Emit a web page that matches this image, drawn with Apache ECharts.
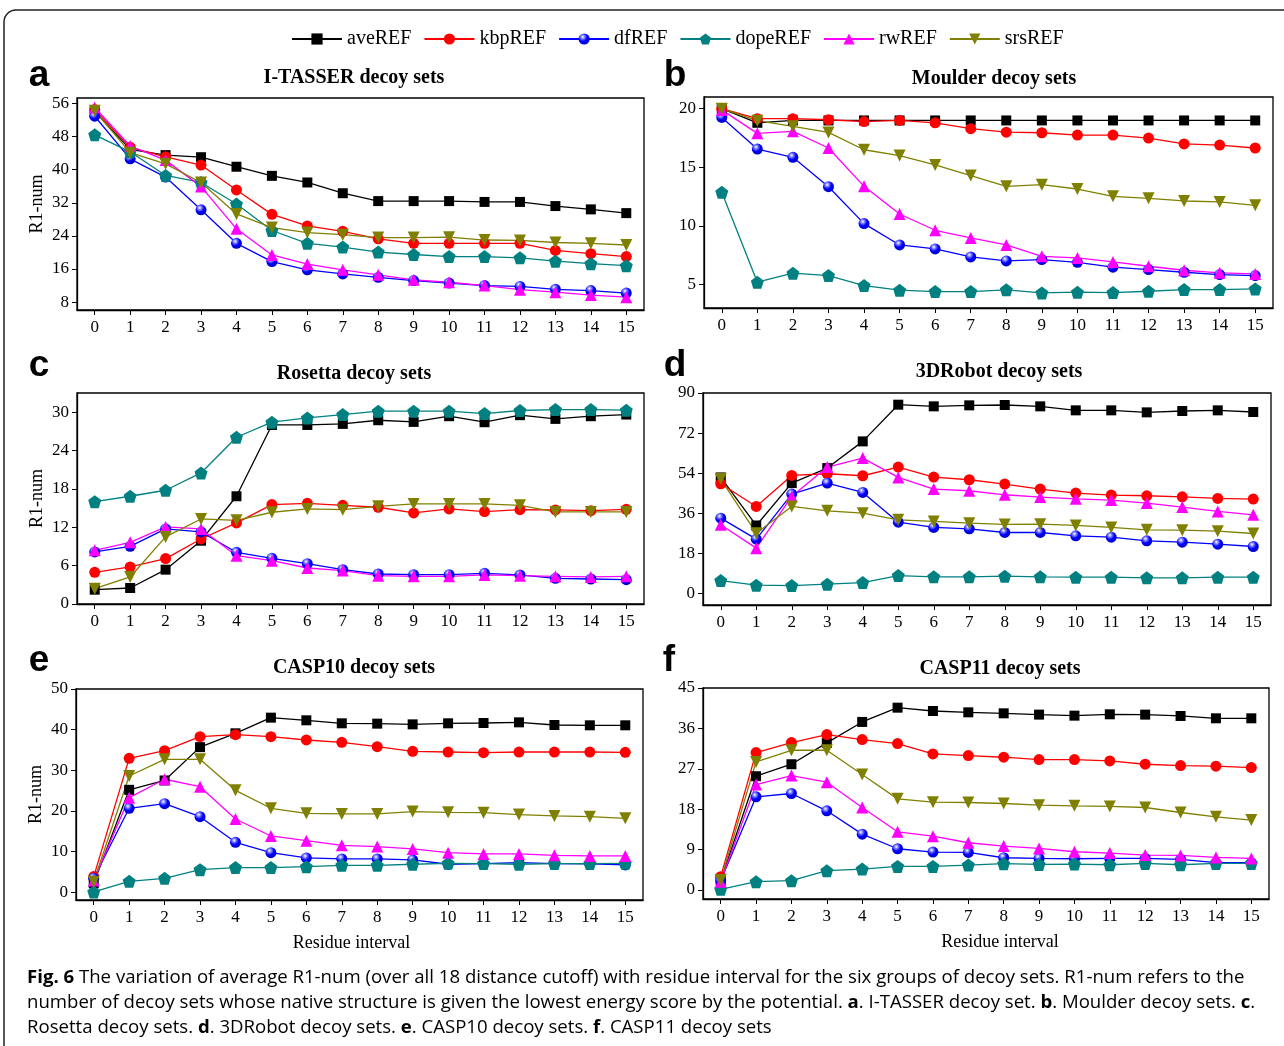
<!DOCTYPE html>
<html>
<head>
<meta charset="utf-8">
<script src="https://cdn.jsdelivr.net/npm/echarts@6/dist/echarts.min.js"></script>
<style>
  html, body { margin: 0; padding: 0; background: #fff; }
  #main { width: 1284px; height: 1046px; }
</style>
</head>
<body>
<div id="main"></div>
<script type="text/javascript">
// residue interval (x axis)
var interval = [0, 1, 2, 3, 4, 5, 6, 7, 8, 9, 10, 11, 12, 13, 14, 15];
var methods = ['aveREF', 'kbpREF', 'dfREF', 'dopeREF', 'rwREF', 'srsREF'];

// a. I-TASSER
var aAve  = [54.0, 44.9, 43.5, 43.0, 40.7, 38.5, 36.9, 34.3, 32.4, 32.4, 32.4, 32.2, 32.2, 31.2, 30.4, 29.5];
var aKbp  = [54.5, 45.4, 43.1, 41.1, 35.1, 29.2, 26.4, 25.1, 23.3, 22.2, 22.2, 22.2, 22.2, 20.5, 19.7, 19.0];
var aDf   = [52.9, 42.6, 38.2, 30.3, 22.2, 17.8, 15.8, 14.8, 14.0, 13.2, 12.6, 12.0, 11.8, 11.1, 10.8, 10.2];
var aDope = [48.4, 44.3, 38.6, 36.9, 31.7, 25.3, 22.2, 21.3, 20.1, 19.5, 19.0, 19.0, 18.7, 17.9, 17.3, 16.8];
var aRw   = [55.0, 45.7, 42.3, 35.9, 25.7, 19.4, 17.2, 15.8, 14.6, 13.4, 12.8, 12.0, 11.0, 10.4, 9.7, 9.2];
var aSrs  = [54.2, 44.1, 41.4, 36.9, 29.3, 26.0, 24.8, 24.3, 23.6, 23.6, 23.7, 23.0, 22.9, 22.4, 22.2, 21.8];
var aTicks = [8, 16, 24, 32, 40, 48, 56];

// b. Moulder
var bAve  = [20.0, 18.8, 19.0, 19.0, 19.0, 19.0, 19.0, 19.0, 19.0, 19.0, 19.0, 19.0, 19.0, 19.0, 19.0, 19.0];
var bKbp  = [20.0, 19.15, 19.15, 19.06, 18.9, 19.0, 18.8, 18.3, 18.0, 17.95, 17.75, 17.75, 17.5, 17.0, 16.9, 16.65];
var bDf   = [19.26, 16.56, 15.85, 13.35, 10.2, 8.38, 8.04, 7.36, 7.02, 7.13, 6.9, 6.48, 6.28, 6.05, 5.85, 5.77];
var bDope = [12.87, 5.2, 5.97, 5.77, 4.91, 4.52, 4.4, 4.4, 4.55, 4.29, 4.35, 4.32, 4.43, 4.57, 4.57, 4.63];
var bRw   = [19.9, 17.9, 18.07, 16.65, 13.38, 11.02, 9.63, 8.98, 8.38, 7.41, 7.27, 6.93, 6.56, 6.22, 6.0, 5.91];
var bSrs  = [20.0, 18.98, 18.5, 17.98, 16.5, 16.0, 15.2, 14.3, 13.38, 13.52, 13.15, 12.53, 12.36, 12.13, 12.05, 11.76];
var bTicks = [5, 10, 15, 20];

// c. Rosetta
var cAve  = [2.24, 2.5, 5.37, 9.9, 16.85, 28.0, 28.0, 28.17, 28.74, 28.48, 29.37, 28.43, 29.53, 28.95, 29.37, 29.63];
var cKbp  = [4.96, 5.79, 7.1, 10.17, 12.68, 15.55, 15.75, 15.44, 15.13, 14.24, 14.87, 14.45, 14.76, 14.71, 14.6, 14.81];
var cDf   = [8.14, 9.02, 11.74, 11.27, 8.09, 7.15, 6.31, 5.37, 4.69, 4.59, 4.59, 4.8, 4.54, 4.02, 3.91, 3.81];
var cDope = [16.01, 16.85, 17.79, 20.5, 26.08, 28.43, 29.1, 29.63, 30.15, 30.15, 30.15, 29.79, 30.26, 30.41, 30.41, 30.31];
var cRw   = [8.4, 9.65, 12.05, 11.74, 7.56, 6.78, 5.63, 5.22, 4.43, 4.33, 4.33, 4.54, 4.43, 4.33, 4.23, 4.33];
var cSrs  = [2.4, 4.23, 10.49, 13.3, 13.09, 14.35, 14.87, 14.76, 15.28, 15.65, 15.65, 15.65, 15.44, 14.4, 14.4, 14.4];
var cTicks = [0, 6, 12, 18, 24, 30];

// d. 3DRobot
var dAve  = [52.05, 30.45, 49.5, 56.25, 68.25, 84.75, 84.0, 84.45, 84.6, 84.0, 82.2, 82.2, 81.3, 81.9, 82.2, 81.45];
var dKbp  = [49.2, 39.0, 52.95, 53.7, 52.8, 56.7, 52.2, 51.0, 49.05, 46.8, 45.0, 44.1, 43.8, 43.35, 42.6, 42.3];
var dDf   = [33.75, 24.3, 44.55, 49.5, 45.3, 31.95, 29.55, 28.95, 27.3, 27.3, 25.8, 25.2, 23.55, 22.95, 22.05, 21.0];
var dDope = [5.7, 3.6, 3.45, 4.05, 4.8, 7.95, 7.35, 7.35, 7.65, 7.35, 7.2, 7.2, 6.9, 6.9, 7.2, 7.2];
var dRw   = [30.75, 20.25, 43.5, 56.7, 60.75, 52.05, 46.8, 46.05, 44.25, 43.2, 42.45, 41.85, 40.5, 38.7, 36.75, 35.25];
var dSrs  = [51.3, 27.0, 39.0, 37.05, 36.0, 33.0, 32.25, 31.5, 30.9, 31.05, 30.45, 29.55, 28.5, 28.35, 27.9, 26.85];
var dTicks = [0, 18, 36, 54, 72, 90];

// e. CASP10
var eAve  = [2.2, 25.2, 27.5, 35.7, 39.1, 42.95, 42.3, 41.56, 41.48, 41.3, 41.56, 41.64, 41.8, 41.15, 41.07, 41.07];
var eKbp  = [3.85, 32.95, 34.84, 38.28, 38.77, 38.28, 37.46, 36.89, 35.82, 34.67, 34.5, 34.34, 34.5, 34.5, 34.5, 34.43];
var eDf   = [3.44, 20.66, 21.8, 18.6, 12.3, 9.75, 8.44, 8.2, 8.2, 7.95, 6.89, 7.05, 7.3, 7.05, 6.97, 6.72];
var eDope = [0.08, 2.7, 3.44, 5.57, 6.07, 6.07, 6.3, 6.64, 6.64, 6.89, 7.13, 7.05, 6.89, 7.05, 7.05, 7.13];
var eRw   = [2.87, 23.28, 27.8, 25.98, 18.03, 13.85, 12.7, 11.56, 11.23, 10.66, 9.75, 9.43, 9.43, 9.1, 8.93, 8.93];
var eSrs  = [2.6, 28.6, 32.7, 32.7, 25.08, 20.66, 19.43, 19.26, 19.26, 19.84, 19.67, 19.59, 19.1, 18.77, 18.6, 18.2];
var eTicks = [0, 10, 20, 30, 40, 50];

// f. CASP11
var fAve  = [2.08, 25.35, 28.02, 32.77, 37.44, 40.62, 39.88, 39.58, 39.36, 39.07, 38.84, 39.14, 39.07, 38.77, 38.25, 38.25];
var fKbp  = [2.97, 30.62, 32.84, 34.62, 33.51, 32.62, 30.32, 29.95, 29.58, 29.06, 29.06, 28.76, 28.02, 27.72, 27.58, 27.28];
var fDf   = [2.08, 20.76, 21.5, 17.64, 12.45, 9.19, 8.45, 8.38, 7.19, 7.04, 6.97, 7.04, 7.04, 6.82, 6.08, 6.08];
var fDope = [0.15, 1.85, 2.08, 4.3, 4.67, 5.26, 5.26, 5.56, 5.86, 5.71, 5.78, 5.63, 5.93, 5.63, 5.93, 5.93];
var fRw   = [1.85, 23.5, 25.5, 24.02, 18.38, 12.97, 12.0, 10.53, 9.79, 9.27, 8.52, 8.23, 7.78, 7.71, 7.26, 7.04];
var fSrs  = [2.22, 28.54, 31.13, 31.13, 25.72, 20.31, 19.57, 19.5, 19.27, 18.9, 18.75, 18.61, 18.38, 17.27, 16.31, 15.57];
var fTicks = [0, 9, 18, 27, 36, 45];

var SERIF = '"Liberation Serif", "Times New Roman", serif';
var SANS = '"Liberation Sans", Arial, sans-serif';

// panel layout: grid box in px, y range, labels
var panels = [
  { letter: 'a', title: 'I-TASSER decoy sets', data: [aAve, aKbp, aDf, aDope, aRw, aSrs], ticks: aTicks,
    min: 6.1, max: 57.3, box: [77, 98, 567, 212], lx: 39, ly: 76, tx: 354, ty: 78, yName: true, xName: false, xPad: [0, 0, 0, 0] },
  { letter: 'b', title: 'Moulder decoy sets', data: [bAve, bKbp, bDf, bDope, bRw, bSrs], ticks: bTicks,
    min: 3, max: 21, box: [704, 97, 569, 211], lx: 675, ly: 76, tx: 994, ty: 79, yName: false, xName: false, xPad: [0, 0, 0, 0] },
  { letter: 'c', title: 'Rosetta decoy sets', data: [cAve, cKbp, cDf, cDope, cRw, cSrs], ticks: cTicks,
    min: 0, max: 33, box: [77, 393, 567, 211], lx: 39, ly: 366, tx: 354, ty: 374, yName: true, xName: false, xPad: [0, 0, 0, 0] },
  { letter: 'd', title: '3DRobot decoy sets', data: [dAve, dKbp, dDf, dDope, dRw, dSrs], ticks: dTicks,
    min: -5.3, max: 90, box: [703, 393, 568, 212], lx: 675, ly: 366, tx: 999, ty: 372, yName: false, xName: false, xPad: [0, 0, 0, 0] },
  { letter: 'e', title: 'CASP10 decoy sets', data: [eAve, eKbp, eDf, eDope, eRw, eSrs], ticks: eTicks,
    min: -1.9, max: 50, box: [76, 689, 567, 211], lx: 39, ly: 661, tx: 354, ty: 668, yName: true, xName: true, xPad: [0, 16, 0, 0] },
  { letter: 'f', title: 'CASP11 decoy sets', data: [fAve, fKbp, fDf, fDope, fRw, fSrs], ticks: fTicks,
    min: -2, max: 45, box: [703, 688, 566, 211], lx: 669, ly: 661, tx: 1000, ty: 669, yName: false, xName: true, xPad: [0, 0, 0, 28] }
];

var blueBall = {
  type: 'radial', x: 0.38, y: 0.32, r: 0.65,
  colorStops: [{ offset: 0, color: '#ffffff' }, { offset: 0.28, color: '#7a7aff' }, { offset: 0.6, color: '#0000ff' }, { offset: 1, color: '#0000d0' }]
};
var marks = [
  { color: '#000000', fill: '#000000', symbol: 'rect', size: 10 },
  { color: '#ff0000', fill: '#ff0000', symbol: 'circle', size: 11 },
  { color: '#0000ff', fill: blueBall, symbol: 'circle', size: 11 },
  { color: '#008080', fill: '#008080', symbol: 'path://M0,-10 L9.51,-3.09 L5.88,8.09 L-5.88,8.09 L-9.51,-3.09 Z', size: 13 },
  { color: '#ff00ff', fill: '#ff00ff', symbol: 'triangle', size: 12 },
  { color: '#808000', fill: '#808000', symbol: 'path://M0,0 L10,0 L5,9 Z', size: 12 }
];

var grids = [], xAxes = [], yAxes = [], series = [], graphics = [];

panels.forEach(function (p, i) {
  grids.push({
    left: p.box[0], top: p.box[1], width: p.box[2], height: p.box[3],
    show: true, borderColor: '#000', borderWidth: 1.3, backgroundColor: 'transparent'
  });
  xAxes.push({
    type: 'value', gridIndex: i, min: -0.5, max: 15.5,
    name: p.xName ? 'Residue interval' : '', nameLocation: 'middle', nameGap: 34,
    nameTextStyle: { fontFamily: SERIF, fontSize: 18, color: '#000', padding: p.xPad },
    axisLine: { show: true, onZero: false, lineStyle: { color: '#000', width: 1.3 } },
    axisTick: { show: true, length: 5, customValues: interval, lineStyle: { color: '#000' } },
    axisLabel: { customValues: interval, margin: 9, fontFamily: SERIF, fontSize: 17, color: '#000' },
    splitLine: { show: false }
  });
  yAxes.push({
    type: 'value', gridIndex: i, min: p.min, max: p.max,
    name: p.yName ? 'R1-num' : '', nameLocation: 'middle', nameGap: 31,
    nameTextStyle: { fontFamily: SERIF, fontSize: 18, color: '#000' },
    axisLine: { show: true, onZero: false, lineStyle: { color: '#000', width: 1.3 } },
    axisTick: { show: true, length: 5, customValues: p.ticks, lineStyle: { color: '#000' } },
    axisLabel: { customValues: p.ticks, margin: 8, fontFamily: SERIF, fontSize: 17, color: '#000' },
    splitLine: { show: false }
  });
  p.data.forEach(function (vals, k) {
    var m = marks[k];
    series.push({
      name: methods[k], type: 'line', xAxisIndex: i, yAxisIndex: i,
      data: interval.map(function (x, j) { return [x, vals[j]]; }),
      symbol: m.symbol, symbolSize: m.size, showAllSymbol: true,
      itemStyle: { color: m.fill },
      lineStyle: { color: m.color, width: 1.3 },
      emphasis: { disabled: true },
      animation: false
    });
  });
  graphics.push({
    type: 'text', x: p.lx, y: p.ly,
    style: { text: p.letter, fontFamily: SANS, fontWeight: 'bold', fontSize: 37, fill: '#000', align: 'center', verticalAlign: 'middle' }
  });
  graphics.push({
    type: 'text', x: p.tx, y: p.ty,
    style: { text: p.title, fontFamily: SERIF, fontWeight: 'bold', fontSize: 20, fill: '#000', align: 'center', verticalAlign: 'middle' }
  });
});

// outer frame
graphics.unshift({
  type: 'rect', shape: { x: 4, y: 10, width: 1400, height: 1200, r: 12 },
  style: { fill: 'none', stroke: '#222', lineWidth: 1.5 }, z: -1
});

// caption
var capFont = '"Open Sans", "Noto Sans", sans-serif';
var capRich = {
  n: { fontFamily: capFont, fontSize: 18.6, color: '#2b2b2b' },
  b: { fontFamily: capFont, fontSize: 18.6, fontWeight: 'bold', color: '#2b2b2b' }
};
var capLines = [
  '{b|Fig. 6}{n| The variation of average R1-num (over all 18 distance cutoff) with residue interval for the six groups of decoy sets. R1-num refers to the}',
  '{n|number of decoy sets whose native structure is given the lowest energy score by the potential. }{b|a}{n|. I-TASSER decoy set. }{b|b}{n|. Moulder decoy sets. }{b|c}{n|.}',
  '{n|Rosetta decoy sets. }{b|d}{n|. 3DRobot decoy sets. }{b|e}{n|. CASP10 decoy sets. }{b|f}{n|. CASP11 decoy sets}'
];
capLines.forEach(function (t, i) {
  graphics.push({
    type: 'text', x: 27, y: 978 + i * 25,
    style: { text: t, rich: capRich, align: 'left', verticalAlign: 'middle' }
  });
});

var myChart = echarts.init(document.getElementById('main'));
var option = {
  backgroundColor: '#fff',
  animation: false,
  legend: {
    data: methods, top: 24, left: 286,
    itemWidth: 50, itemHeight: 14, itemGap: 12,
    textStyle: { fontFamily: SERIF, fontSize: 20, color: '#000' }
  },
  grid: grids,
  xAxis: xAxes,
  yAxis: yAxes,
  series: series,
  graphic: graphics
};
myChart.setOption(option);
</script>
</body>
</html>
